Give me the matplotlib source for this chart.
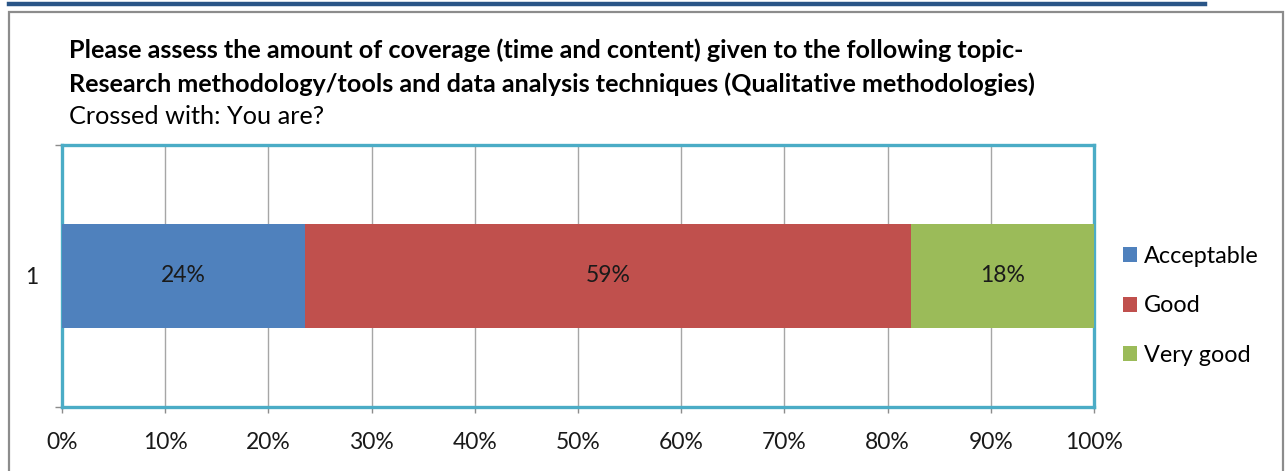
import matplotlib
matplotlib.use("Agg")
import matplotlib.pyplot as plt
from matplotlib.patches import Rectangle
from matplotlib.lines import Line2D

categories = ["1"]
series_names = ["Acceptable", "Good", "Very good"]
values = [23.5, 58.8, 17.7]
value_labels = ["24%", "59%", "18%"]
colors = ["#4f81bd", "#c0504d", "#9bbb59"]
xtick_values = [0, 10, 20, 30, 40, 50, 60, 70, 80, 90, 100]
xtick_labels = [f"{v}%" for v in xtick_values]
title_lines = [
    "Please assess the amount of coverage (time and content) given to the following topic-",
    "Research methodology/tools and data analysis techniques (Qualitative methodologies)",
]
subtitle = "Crossed with: You are?"

FONT = ["Lato", "DejaVu Sans"]
plt.rcParams["font.family"] = FONT

W, H = 1287, 471
fig = plt.figure(figsize=(W / 100, H / 100), dpi=100)
fig.patch.set_facecolor("white")

def fx(px):
    return px / W

def fy(py):
    return 1 - py / H

# top decorative blue line
fig.add_artist(Line2D([fx(9), fx(1205)], [fy(3.5), fy(3.5)], color="#2a5587", lw=3.2,
                      transform=fig.transFigure))
# outer gray frame
fig.add_artist(Rectangle((fx(9), fy(480)), fx(1283) - fx(9), fy(12) - fy(480),
                         transform=fig.transFigure, fill=False, edgecolor="#8c8c8c", lw=1.6))

# titles
TS = 18.1
fig.text(fx(69), fy(50), title_lines[0], fontsize=TS, fontweight="bold", va="center", ha="left")
fig.text(fx(69), fy(84), title_lines[1], fontsize=TS, fontweight="bold", va="center", ha="left")
fig.text(fx(69), fy(116), subtitle, fontsize=18.2, va="center", ha="left")

# axes
L, R, T, B = 62, 1094, 145, 407
ax = fig.add_axes([fx(L), fy(B), fx(R) - fx(L), fy(T) - fy(B)])
left = 0
for name, v, lab, c in zip(series_names, values, value_labels, colors):
    ax.barh([1], [v], left=[left], height=0.395, color=c, label=name, zorder=3)
    ax.text(left + v / 2, 1, lab, ha="center", va="center", fontsize=16.5, color="#1a1a1a", zorder=4)
    left += v

ax.set_xlim(0, 100)
ax.set_ylim(0.5, 1.5)
ax.set_xticks(xtick_values)
ax.set_xticklabels(xtick_labels, fontsize=16.5, color="#1a1a1a")
ax.tick_params(axis="x", direction="out", length=4, width=1, color="#8c8c8c", pad=14)
ax.set_yticks([0.5, 1.5])
ax.set_yticklabels(["", ""])
ax.set_yticks([1], minor=True)
ax.set_yticklabels(categories, minor=True, fontsize=16.5, color="#1a1a1a")
ax.tick_params(axis="y", which="major", direction="out", length=5, width=1, color="#8c8c8c")
ax.tick_params(axis="y", which="minor", length=0, pad=17)
ax.grid(axis="x", color="#a6a6a6", lw=1, zorder=0)
for s in ax.spines.values():
    s.set_color("#4bacc6")
    s.set_linewidth(2.4)

handles, labels = ax.get_legend_handles_labels()
fig.legend(handles, labels, loc="center left", bbox_to_anchor=(fx(1123), fy(306)),
           frameon=False, fontsize=16.8, handlelength=0.6, handleheight=0.6,
           handletextpad=0.3, labelspacing=1.22, borderpad=0, borderaxespad=0)

fig.savefig("out.png", dpi=100)
